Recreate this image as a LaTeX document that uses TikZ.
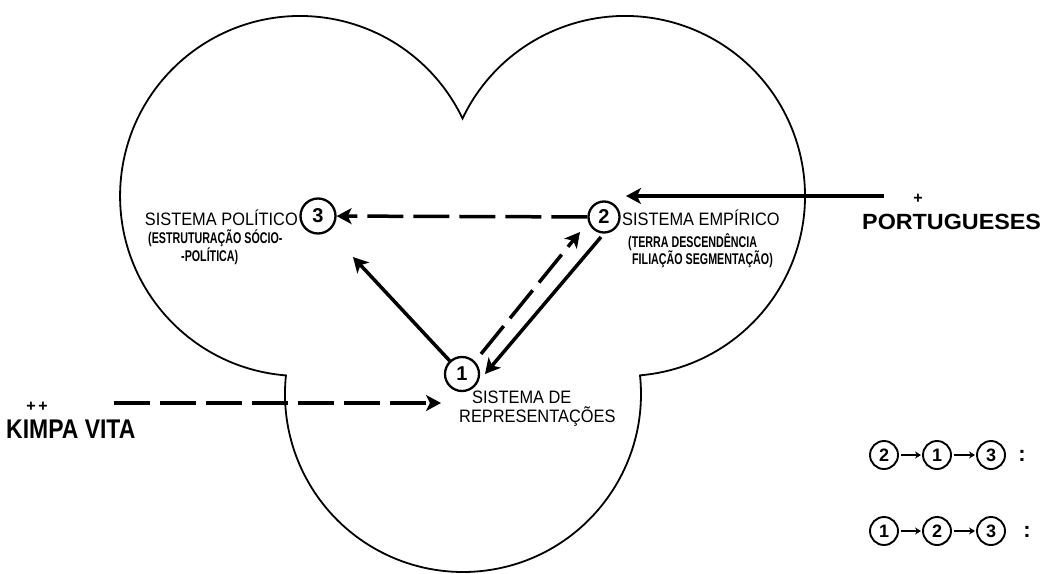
\documentclass[tikz,border=0pt]{standalone}
\usepackage{fontspec}
\setmainfont{Liberation Sans}
\newfontfamily\labfnt{Liberation Sans}[FakeStretch=0.91]
\newfontfamily\subfnt{Liberation Sans}[FakeStretch=0.69]
\newfontfamily\bigfnt{Liberation Sans}[FakeStretch=0.85]
\newfontfamily\portfnt{Liberation Sans}[FakeStretch=1.06]
\usetikzlibrary{arrows.meta,calc}
\tikzset{
  outline/.style={line width=1.8pt, line join=miter},
  num/.style={circle, draw, line width=2.3pt, inner sep=0pt, font=\bfseries\fontsize{20}{20}\selectfont},
  lnum/.style={circle, draw, line width=1.9pt, minimum size=28pt, inner sep=0pt, font=\bfseries\fontsize{18}{18}\selectfont},
  conn/.style={line width=3.5pt, -{Stealth[length=15pt,width=16pt,inset=4pt]}},
  dconn/.style={conn, dash pattern=on 36pt off 10pt},
  lconn/.style={line width=1.8pt, -{Stealth[length=6pt,width=7pt]}, shorten <=2pt, shorten >=1pt},
  lbl/.style={font=\labfnt\fontsize{18}{18}\selectfont, inner sep=0pt},
  sublbl/.style={font=\subfnt\bfseries\fontsize{15.5}{17}\selectfont, inner sep=0pt},
  biglbl/.style={font=\bigfnt\bfseries\fontsize{27}{27}\selectfont, inner sep=0pt},
  portlbl/.style={font=\portfnt\bfseries\fontsize{22}{22}\selectfont, inner sep=0pt},
  plus/.style={font=\bfseries\fontsize{16}{16}\selectfont, inner sep=0pt},
  colon/.style={font=\bfseries\fontsize{22}{22}\selectfont, inner sep=0pt}
}
\begin{document}
\begin{tikzpicture}[x=1pt, y=1pt, yscale=-1]
\useasboundingbox[fill=white] (0,0) rectangle (1041,573);
% three-lobed outline
\draw[outline] (640,375.4)
  arc[start angle=-6, end angle=186, radius=178]
  arc[start angle=94.5, end angle=334.5, radius=180]
  arc[start angle=205.5, end angle=445.2, radius=180] -- cycle;

% numbered systems
\node[num, minimum size=35pt] (n3) at (318,216) {3};
\node[num, minimum size=31pt] (n2) at (604,217) {2};
\node[num, minimum size=34pt] (n1) at (462,374) {1};

% labels
\node[lbl, anchor=base east] (pol) at (298,225) {SISTEMA POLÍTICO};
\node[sublbl, anchor=base west] (polA) at (148,243) {(ESTRUTURAÇÃO SÓCIO-};
\node[sublbl, anchor=base west] (polB) at (181,261) {-POLÍTICA)};
\node[lbl, anchor=base west] (emp) at (622,225) {SISTEMA EMPÍRICO};
\node[sublbl, anchor=base west] (empA) at (628,247) {(TERRA DESCENDÊNCIA};
\node[sublbl, anchor=base west] (empB) at (632,264) {FILIAÇÃO SEGMENTAÇÃO)};
\node[lbl, anchor=base west] (repA) at (472,403) {SISTEMA DE};
\node[lbl, anchor=base west] (repB) at (459,422) {REPRESENTAÇÕES};

\node[biglbl, anchor=base west] (kimpa) at (6,438) {KIMPA VITA};
\node[plus] (kp) at (37,407) {+\,+};
\node[portlbl, anchor=base west] (port) at (862,229) {PORTUGUESES};
\node[plus] (pp) at (918,199) {+};

% connectors
\coordinate (t13) at (353,257);
\coordinate (pS) at (884,196);
\coordinate (pE) at (626,196);
\coordinate (kS) at (114,403);
\coordinate (kE) at (441,403);
\draw[dconn] (n2) -- (n3);
\draw[conn] (n1) -- (t13);
\draw[dconn] ($(n1)+(19,-20)$) -- ($(n2)+(-24,15)$);
\draw[conn] ($(n2)+(-3,20)$) -- ($(n1)+(23,0)$);
\draw[conn] (pS) -- (pE);
\draw[dconn] (kS) -- (kE);

% legend
\node[lnum] (a2) at (884,455) {2};
\node[lnum] (a1) at (937,455) {1};
\node[lnum] (a3) at (991,455) {3};
\node[colon] (ac) at (1022,456) {:};
\draw[lconn] (a2) -- (a1);
\draw[lconn] (a1) -- (a3);
\node[lnum] (b1) at (884,531) {1};
\node[lnum] (b2) at (937,531) {2};
\node[lnum] (b3) at (991,531) {3};
\node[colon] (bc) at (1027,532) {:};
\draw[lconn] (b1) -- (b2);
\draw[lconn] (b2) -- (b3);
\end{tikzpicture}
\end{document}
